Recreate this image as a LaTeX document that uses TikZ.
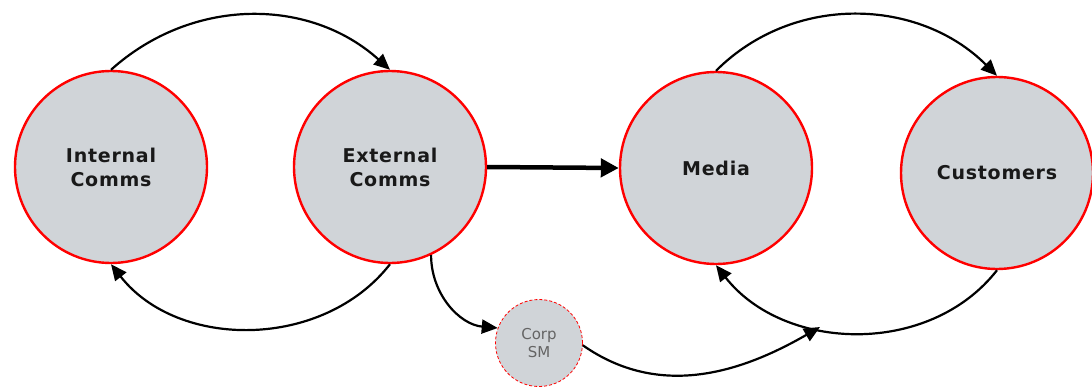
\documentclass[tikz,border=0pt]{standalone}
\usepackage{fontspec}
\newfontfamily\labfont[LetterSpace=4]{DejaVu Sans}
\newfontfamily\smfont{DejaVu Sans}
\usetikzlibrary{arrows.meta}
\definecolor{nodefill}{RGB}{208,212,216}
\definecolor{smtext}{RGB}{100,100,100}
\tikzset{
  bignode/.style={circle, draw=red, line width=2.4pt, fill=nodefill, minimum size=192pt, inner sep=0pt,
    align=center, font=\labfont\bfseries\fontsize{19}{24}\selectfont, text=black!90},
  smallnode/.style={circle, draw=red, line width=0.8pt, densely dashed, fill=nodefill, minimum size=87pt, inner sep=0pt,
    align=center, font=\smfont\fontsize{15}{18}\selectfont, text=smtext},
  conn/.style={line width=2.2pt, -{Triangle[length=16pt,width=14pt]}},
  thickconn/.style={line width=4.5pt, -{Triangle[length=18pt,width=18pt]}}
}
\begin{document}
\begin{tikzpicture}[x=1pt,y=1pt]
\useasboundingbox (0,0) rectangle (1092,389);
\node[bignode] (int) at (111,222) {Internal\\Comms};
\node[bignode] (ext) at (390,222) {External\\Comms};
\node[bignode] (med) at (716,221) {Media};
\node[bignode] (cus) at (997,216) {Customers};
\node[smallnode] (sm) at (539,46) {Corp\\SM};
\coordinate (j) at (820,62);
\draw[conn] (int.90) to[out=42,in=138] (ext.90);
\draw[conn] (ext.270) to[out=-128,in=-52] (int.270);
\draw[thickconn] (ext.east) -- (med.west);
\draw[conn] (med.90) to[out=45,in=135] (cus.90);
\draw[conn] (cus.270) to[out=-128,in=-52] (med.270);
\draw[conn] (ext.-65) to[out=-90,in=175] (sm.160);
\draw[conn] (sm.-3) to[out=-35,in=210] (j);
\end{tikzpicture}
\end{document}
